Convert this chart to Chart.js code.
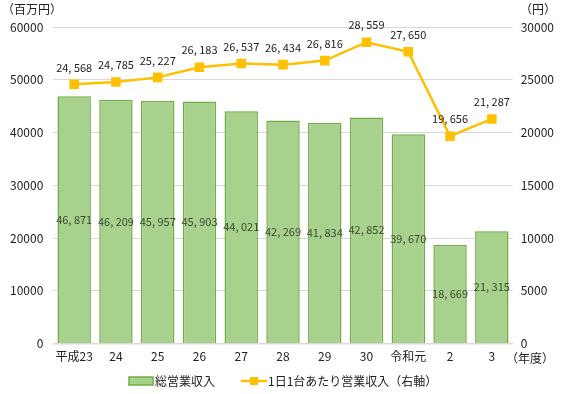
<!DOCTYPE html>
<html>
<head>
<meta charset="utf-8">
<script src="https://cdn.jsdelivr.net/npm/chart.js@4/dist/chart.umd.min.js"></script>
<style>
  html, body { margin: 0; padding: 0; background: #fff; }
  #wrap { position: relative; width: 562px; height: 394px; }
</style>
</head>
<body>
<div id="wrap"><canvas id="c" width="562" height="394"></canvas></div>
<script>
const categories = ['平成23', '24', '25', '26', '27', '28', '29', '30', '令和元', '2', '3'];
const revenueTotal = [46871, 46209, 45957, 45903, 44021, 42269, 41834, 42852, 39670, 18669, 21315];
const revenuePerCarDay = [24568, 24785, 25227, 26183, 26537, 26434, 26816, 28559, 27650, 19656, 21287];
const leftTicks = [0, 10000, 20000, 30000, 40000, 50000, 60000];
const rightTicks = [0, 5000, 10000, 15000, 20000, 25000, 30000];

const FONT = '"Noto Sans CJK JP", "Noto Sans", sans-serif';
const BAR_FILL = '#a9d18e';
const BAR_EDGE = '#70ad47';
const LINE_COLOR = '#ffc000';

const fmt = v => v.toLocaleString('en-US').replace(/,/g, ', ');

// Value labels, axis unit captions and the legend
const annotate = {
  id: 'annotate',
  afterDatasetsDraw(chart) {
    const ctx = chart.ctx;
    ctx.save();
    ctx.font = '11px ' + FONT;
    ctx.textAlign = 'center';
    ctx.textBaseline = 'middle';

    const barMeta = chart.getDatasetMeta(0);
    barMeta.data.forEach((bar, i) => {
      const y = (bar.y + bar.base) / 2;
      ctx.fillStyle = '#3a4a30';
      ctx.fillText(fmt(revenueTotal[i]), bar.x, y);
    });

    const lineMeta = chart.getDatasetMeta(1);
    lineMeta.data.forEach((pt, i) => {
      ctx.fillStyle = '#222';
      ctx.fillText(fmt(revenuePerCarDay[i]), pt.x, pt.y - 17);
    });

    // unit captions
    ctx.font = '12px ' + FONT;
    ctx.fillStyle = '#222';
    ctx.textAlign = 'left';
    ctx.fillText('（百万円）', 2, 9);
    ctx.fillText('（円）', 520, 9);
    ctx.fillText('（年度）', 506, 358);

    // legend
    const ly = 381;
    ctx.fillStyle = BAR_FILL;
    ctx.strokeStyle = BAR_EDGE;
    ctx.lineWidth = 1.5;
    ctx.fillRect(129, ly - 4, 24, 8);
    ctx.strokeRect(129, ly - 4, 24, 8);
    ctx.fillStyle = '#222';
    ctx.font = '12px ' + FONT;
    ctx.fillText('総営業収入', 155, ly);

    ctx.strokeStyle = LINE_COLOR;
    ctx.lineWidth = 2.5;
    ctx.beginPath();
    ctx.moveTo(241, ly);
    ctx.lineTo(267, ly);
    ctx.stroke();
    ctx.fillStyle = LINE_COLOR;
    ctx.fillRect(250, ly - 4, 8, 8);
    ctx.fillStyle = '#222';
    ctx.fillText('1日1台あたり営業収入（右軸）', 268, ly);
    ctx.restore();
  }
};

new Chart(document.getElementById('c'), {
  data: {
    labels: categories,
    datasets: [
      {
        type: 'bar',
        label: '総営業収入',
        data: revenueTotal,
        backgroundColor: BAR_FILL,
        borderColor: BAR_EDGE,
        borderWidth: 1.5,
        yAxisID: 'y',
        categoryPercentage: 1.0,
        barPercentage: 0.8,
        order: 2
      },
      {
        type: 'line',
        label: '1日1台あたり営業収入（右軸）',
        data: revenuePerCarDay,
        borderColor: LINE_COLOR,
        backgroundColor: LINE_COLOR,
        borderWidth: 2.5,
        pointStyle: 'rect',
        pointRadius: 5,
        pointHoverRadius: 5,
        yAxisID: 'y1',
        tension: 0,
        order: 1
      }
    ]
  },
  options: {
    responsive: false,
    animation: false,
    devicePixelRatio: 1,
    layout: { padding: { top: 27, bottom: 24, left: 0, right: 0 } },
    plugins: { legend: { display: false }, tooltip: { enabled: false } },
    scales: {
      x: {
        grid: { display: false, drawTicks: false },
        border: { color: '#d9d9d9', width: 1.5 },
        ticks: { font: { family: FONT, size: 12 }, color: '#222', padding: 6, maxRotation: 0, minRotation: 0, autoSkip: false }
      },
      y: {
        position: 'left',
        min: 0, max: 60000,
        afterBuildTicks: axis => { axis.ticks = leftTicks.map(v => ({ value: v })); },
        grid: { color: '#d9d9d9', drawTicks: false },
        border: { display: false },
        ticks: { font: { family: FONT, size: 12 }, color: '#222', padding: 10, callback: v => String(v) }
      },
      y1: {
        position: 'right',
        min: 0, max: 30000,
        afterBuildTicks: axis => { axis.ticks = rightTicks.map(v => ({ value: v })); },
        grid: { display: false, drawTicks: false },
        border: { display: false },
        ticks: { font: { family: FONT, size: 12 }, color: '#222', padding: 8, callback: v => String(v) }
      }
    }
  },
  plugins: [annotate]
});
</script>
</body>
</html>
